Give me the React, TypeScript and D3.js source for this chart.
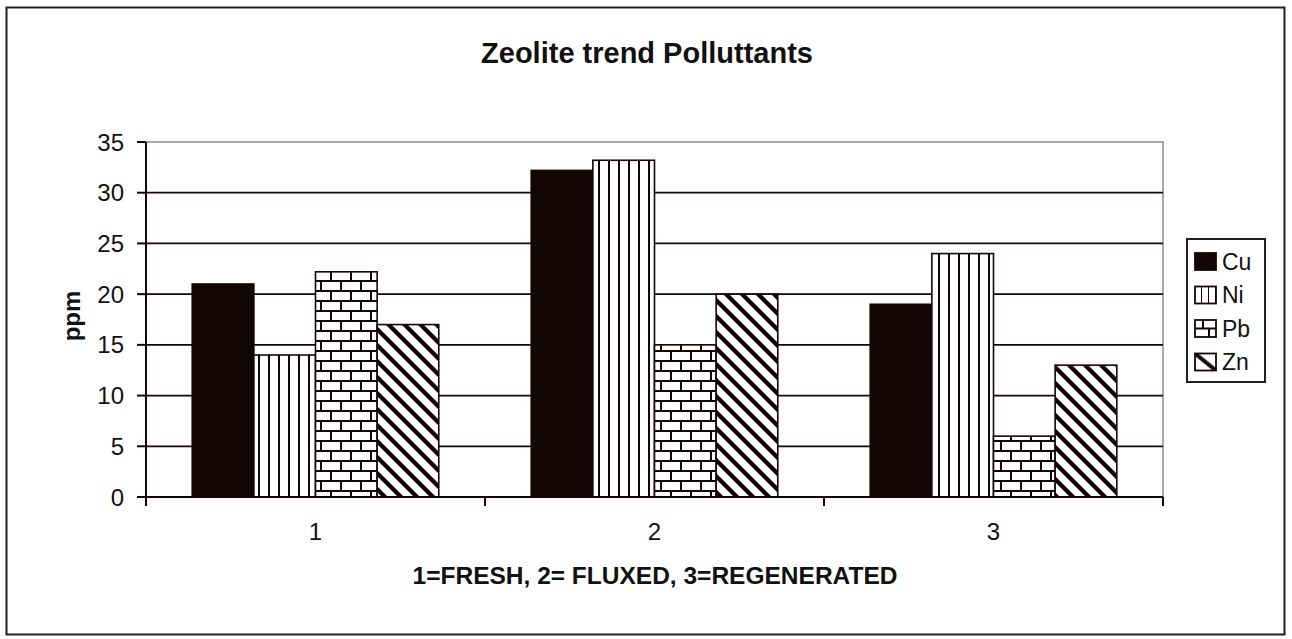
import React from "react";
import * as d3 from "d3";

const categories = ["1", "2", "3"];
const seriesNames = ["Cu", "Ni", "Pb", "Zn"];
const cuValues = [21, 32.2, 19];
const niValues = [14, 33.2, 24];
const pbValues = [22.2, 15, 6];
const znValues = [17, 20, 13];
const yTicks = [0, 5, 10, 15, 20, 25, 30, 35];
const title = "Zeolite trend Polluttants";
const xTitle = "1=FRESH, 2= FLUXED, 3=REGENERATED";
const yTitle = "ppm";

const W = 1292;
const H = 639;
const FONT = "'Liberation Sans', Arial, Helvetica, sans-serif";
const INK = "#140606";

export default function App() {
  const left = 146, right = 1163, top = 142, bottom = 497;
  const values = [cuValues, niValues, pbValues, znValues];
  const fills = ["url(#pCu)", "url(#pNi)", "url(#pPb)", "url(#pZn)"];
  const legendFills = ["url(#lCu)", "url(#lNi)", "url(#lPb)", "url(#lZn)"];

  const x = d3.scaleBand<string>().domain(categories).range([left, right]).padding(0);
  const bw = x.bandwidth();
  const barW = bw / (seriesNames.length + 1.5);
  const inner = d3
    .scaleBand<string>()
    .domain(seriesNames)
    .range([barW * 0.75, bw - barW * 0.75])
    .padding(0);
  const y = d3.scaleLinear().domain([0, 35]).range([bottom, top]);

  const boundaries = [...categories.map((c) => x(c) as number), right];

  const legendX = 1187, legendY = 239, legendW = 78, legendH = 143;
  const rowH = 33.5;

  return (
    <svg
      width={W}
      height={H}
      style={{ position: "absolute", left: 0, top: 0, background: "#fff" }}
      fontFamily={FONT}
    >
      <defs>
        <pattern id="pCu" patternUnits="userSpaceOnUse" width={10} height={10}>
          <rect width={10} height={10} fill={INK} />
        </pattern>
        <pattern id="pNi" patternUnits="userSpaceOnUse" width={10} height={10} x={0}>
          <rect width={10} height={10} fill="#fff" />
          <rect x={8} width={2} height={10} fill={INK} />
        </pattern>
        <pattern id="pPb" patternUnits="userSpaceOnUse" width={20} height={20}>
          <rect width={20} height={20} fill="#fff" />
          <rect y={0} width={20} height={2} fill={INK} />
          <rect y={10} width={20} height={2} fill={INK} />
          <rect x={0} y={0} width={2} height={10} fill={INK} />
          <rect x={10} y={10} width={2} height={10} fill={INK} />
        </pattern>
        <pattern id="pZn" patternUnits="userSpaceOnUse" width={16} height={16}>
          <rect width={16} height={16} fill="#fff" />
          <path d="M-4,-4L20,20M-4,12L4,20M12,-4L20,4" stroke={INK} strokeWidth={4.3} />
        </pattern>
        <pattern id="lCu" patternUnits="userSpaceOnUse" width={21} height={17}>
          <rect width={21} height={17} fill={INK} />
        </pattern>
        <pattern id="lNi" patternUnits="userSpaceOnUse" width={7} height={17}>
          <rect width={7} height={17} fill="#fff" />
          <rect x={6} width={2} height={17} fill={INK} />
        </pattern>
        <pattern id="lPb" patternUnits="userSpaceOnUse" width={21} height={17}>
          <rect width={21} height={17} fill="#fff" />
          <rect y={7.5} width={21} height={2} fill={INK} />
          <rect x={7} y={0} width={2} height={8} fill={INK} />
          <rect x={13} y={8} width={2} height={9} fill={INK} />
        </pattern>
        <pattern id="lZn" patternUnits="userSpaceOnUse" width={21} height={17}>
          <rect width={21} height={17} fill="#fff" />
          <path d="M0,0L21,17" stroke={INK} strokeWidth={4} />
        </pattern>
      </defs>

      <rect x={0} y={0} width={W} height={H} fill="#fff" />
      {/* outer chart border */}
      <rect x={6.5} y={7.5} width={1278} height={627} fill="none" stroke="#231f20" strokeWidth={2} />

      {/* title */}
      <text x={647} y={63} textAnchor="middle" fontWeight="bold" fontSize={29} fill="#111">
        {title}
      </text>

      {/* plot area frame */}
      <rect x={left} y={top} width={right - left} height={bottom - top} fill="none" stroke="#8c8c8c" strokeWidth={1.5} />

      {/* gridlines */}
      {yTicks
        .filter((t) => t > 0 && t < 35)
        .map((t) => (
          <line key={"g" + t} x1={left} x2={right} y1={y(t)} y2={y(t)} stroke={INK} strokeWidth={1.8} />
        ))}

      {/* bars */}
      {seriesNames.map((s, si) =>
        categories.map((c, ci) => {
          const v = values[si][ci];
          const bx = (x(c) as number) + (inner(s) as number);
          return (
            <rect
              key={s + c}
              x={bx}
              y={y(v)}
              width={barW}
              height={y(0) - y(v)}
              fill={fills[si]}
              stroke={INK}
              strokeWidth={1.6}
            />
          );
        })
      )}

      {/* y axis */}
      <line x1={left} x2={left} y1={top} y2={bottom + 1} stroke={INK} strokeWidth={2} />
      {yTicks.map((t) => (
        <g key={"t" + t}>
          <line x1={left - 9} x2={left} y1={y(t)} y2={y(t)} stroke={INK} strokeWidth={2} />
          <text x={left - 22} y={y(t)} dy="0.36em" textAnchor="end" fontSize={24} fill="#111">
            {t}
          </text>
        </g>
      ))}

      {/* x axis */}
      <line x1={left} x2={right} y1={bottom} y2={bottom} stroke={INK} strokeWidth={2} />
      {boundaries.map((b, i) => (
        <line key={"xb" + i} x1={b} x2={b} y1={bottom} y2={bottom + 9} stroke={INK} strokeWidth={2} />
      ))}
      {categories.map((c) => (
        <text key={"xl" + c} x={(x(c) as number) + bw / 2} y={540} textAnchor="middle" fontSize={24} fill="#111">
          {c}
        </text>
      ))}

      {/* axis titles */}
      <text x={655} y={584} textAnchor="middle" fontWeight="bold" fontSize={24.5} fill="#111">
        {xTitle}
      </text>
      <text
        transform={`translate(${80},${316}) rotate(-90)`}
        textAnchor="middle"
        fontWeight="bold"
        fontSize={24}
        fill="#111"
      >
        {yTitle}
      </text>

      {/* legend */}
      <rect x={legendX} y={legendY} width={legendW} height={legendH} fill="#fff" stroke="#231f20" strokeWidth={2} />
      {seriesNames.map((s, i) => (
        <g key={"lg" + s} transform={`translate(${legendX + 8},${legendY + 14 + i * rowH})`}>
          <rect x={0} y={0} width={21} height={17} fill={legendFills[i]} stroke={INK} strokeWidth={1.8} />
          <text x={27} y={8.5} dy="0.36em" fontSize={23} fill="#111">
            {s}
          </text>
        </g>
      ))}
    </svg>
  );
}
